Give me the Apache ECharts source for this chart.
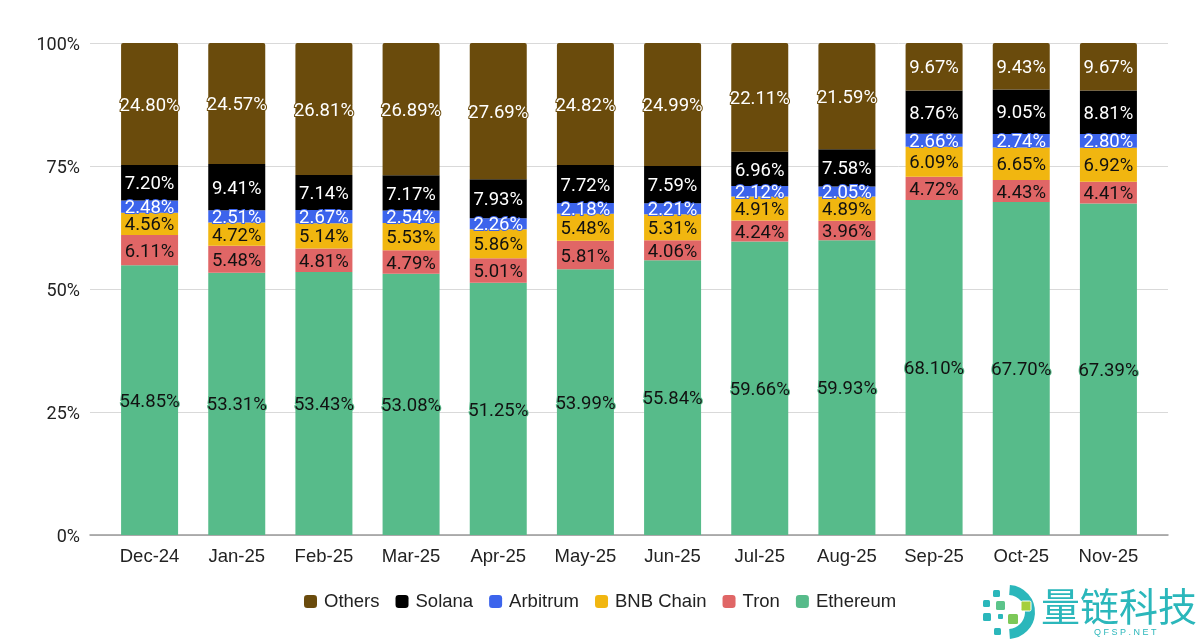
<!DOCTYPE html>
<html style="height: 100%">
<head>
<meta charset="utf-8" />
<title>Stablecoin share</title>
<script src="https://cdn.jsdelivr.net/npm/echarts@6/dist/echarts.min.js"></script>
<style>
  body { margin: 0; background: #fff; }
  #container { width: 1200px; height: 644px; }
</style>
</head>
<body>
<div id="container"></div>
<script>
var months = ['Dec-24','Jan-25','Feb-25','Mar-25','Apr-25','May-25','Jun-25','Jul-25','Aug-25','Sep-25','Oct-25','Nov-25'];
var yTicks = [0, 25, 50, 75, 100];

var ethereum = [54.85,53.31,53.43,53.08,51.25,53.99,55.84,59.66,59.93,68.10,67.70,67.39];
var tron     = [6.11,5.48,4.81,4.79,5.01,5.81,4.06,4.24,3.96,4.72,4.43,4.41];
var bnb      = [4.56,4.72,5.14,5.53,5.86,5.48,5.31,4.91,4.89,6.09,6.65,6.92];
var arbitrum = [2.48,2.51,2.67,2.54,2.26,2.18,2.21,2.12,2.05,2.66,2.74,2.80];
var solana   = [7.20,9.41,7.14,7.17,7.93,7.72,7.59,6.96,7.58,8.76,9.05,8.81];
var others   = [24.80,24.57,26.81,26.89,27.69,24.82,24.99,22.11,21.59,9.67,9.43,9.67];

var legendOrder = ['Others','Solana','Arbitrum','BNB Chain','Tron','Ethereum'];

function makeSeries(name, data, color, textColor) {
    return {
        name: name,
        type: 'bar',
        stack: 'share',
        xAxisIndex: 1,
        yAxisIndex: 1,
        barWidth: 57,
        data: data,
        itemStyle: { color: color, borderRadius: name === 'Others' ? [2, 2, 0, 0] : 0 },
        label: {
            show: true,
            position: 'inside',
            offset: [0, 2],
            color: textColor,
            fontFamily: 'Roboto',
            fontSize: 18.5,
            textBorderColor: color,
            textBorderWidth: 2,
            formatter: function (p) { return p.value.toFixed(2) + '%'; }
        }
    };
}

var myChart = echarts.init(document.getElementById('container'));
var option = {
    backgroundColor: '#fff',
    animation: false,
    legend: {
        data: legendOrder,
        left: 299,
        top: 587,
        icon: 'roundRect',
        itemWidth: 13,
        itemHeight: 13,
        itemGap: 16,
        textStyle: { fontFamily: 'Liberation Sans', fontSize: 18.5, color: '#222', padding: [0, 0, 0, 2] }
    },
    // grid 0 only carries the gridlines, which run wider than the bars
    grid: [
        { left: 90, right: 32, top: 43, height: 492 },
        { left: 106, right: 48, top: 43, height: 492 }
    ],
    xAxis: [
        {
            type: 'category', gridIndex: 0, data: months,
            axisLine: { lineStyle: { color: '#999', width: 1.5 } },
            axisTick: { show: false }, axisLabel: { show: false }
        },
        {
            type: 'category', gridIndex: 1, data: months,
            axisLine: { show: false }, axisTick: { show: false },
            axisLabel: { fontFamily: 'Liberation Sans', fontSize: 18.5, color: '#222', margin: 12, interval: 0 }
        }
    ],
    yAxis: [
        {
            type: 'value', gridIndex: 0, min: 0, max: 100, interval: 25,
            axisLine: { show: false }, axisTick: { show: false },
            splitLine: { lineStyle: { color: '#d9d9d9', width: 1 } },
            axisLabel: {
                color: '#222', margin: 10,
                formatter: function (v) { return yTicks.indexOf(v) >= 0 ? '{t|' + v + '%}' : ''; },
                rich: { t: { fontFamily: 'Roboto', fontSize: 18, color: '#222', padding: [4, 0, 0, 0] } }
            }
        },
        {
            type: 'value', gridIndex: 1, min: 0, max: 100, interval: 25,
            axisLine: { show: false }, axisTick: { show: false },
            splitLine: { show: false }, axisLabel: { show: false }
        }
    ],
    series: [
        makeSeries('Ethereum', ethereum, '#57bb8a', '#111'),
        makeSeries('Tron', tron, '#e06666', '#111'),
        makeSeries('BNB Chain', bnb, '#f1b610', '#111'),
        makeSeries('Arbitrum', arbitrum, '#3c64ec', '#fff'),
        makeSeries('Solana', solana, '#000000', '#fff'),
        makeSeries('Others', others, '#6a4b0c', '#fff')
    ],
    // site watermark in the bottom right corner
    graphic: [
        { type: 'arc', shape: { cx: 1008, cy: 612, r: 22, startAngle: -1.5, endAngle: 1.5 },
          style: { stroke: '#2bb7bb', lineWidth: 10, fill: 'none' } },
        { type: 'rect', shape: { x: 993, y: 590, width: 7, height: 7, r: 1.5 }, style: { fill: '#2bb7bb' } },
        { type: 'rect', shape: { x: 983, y: 600, width: 7, height: 7, r: 1.5 }, style: { fill: '#2bb7bb' } },
        { type: 'rect', shape: { x: 996, y: 601, width: 9, height: 9, r: 1.5 }, style: { fill: '#5cc48a' } },
        { type: 'rect', shape: { x: 1021, y: 601, width: 10, height: 10, r: 1.5 }, style: { fill: '#a5cf3c', stroke: '#fff', lineWidth: 1 } },
        { type: 'rect', shape: { x: 983, y: 613, width: 8, height: 8, r: 1.5 }, style: { fill: '#2bb7bb' } },
        { type: 'rect', shape: { x: 998, y: 614, width: 5, height: 5, r: 1 }, style: { fill: '#2bb7bb' } },
        { type: 'rect', shape: { x: 1008, y: 614, width: 10, height: 10, r: 1.5 }, style: { fill: '#7cc858' } },
        { type: 'rect', shape: { x: 994, y: 628, width: 7, height: 7, r: 1.5 }, style: { fill: '#2bb7bb' } },
        { type: 'text', left: 1041, top: 587, style: { text: '量链科技', fill: '#2bb7bb', fontFamily: 'Noto Sans CJK SC', fontSize: 39 } },
        { type: 'text', left: 1094, top: 628, style: { text: 'Q F S P . N E T', fill: '#2bb7bb', fontFamily: 'Liberation Sans', fontSize: 9 } }
    ]
};
myChart.setOption(option);
</script>
</body>
</html>
